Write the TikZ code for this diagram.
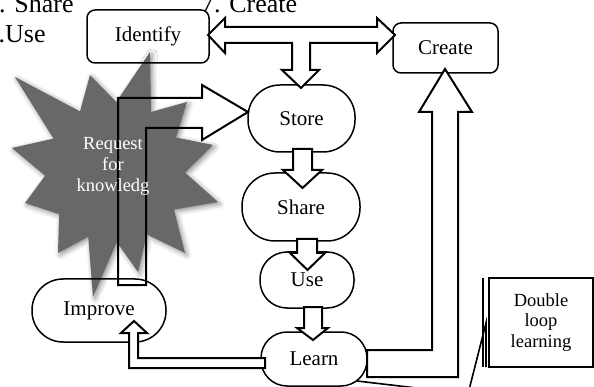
\documentclass[tikz,border=0pt]{standalone}
\usepackage{fontspec}
\setmainfont{Liberation Serif}
\usetikzlibrary{shadows.blur}
\definecolor{burstgray}{RGB}{104,104,104}
\tikzset{
  stage/.style={draw, line width=1.5pt, inner sep=0pt, font=\fontsize{21}{25}\selectfont},
  roundbox/.style 2 args={stage, minimum width=#1pt, minimum height=#2pt, rounded corners=8pt},
  pill/.style n args={3}{stage, minimum width=#1pt, minimum height=#2pt, rounded corners=#3pt},
  heading/.style={inner sep=0pt, font=\fontsize{26}{30}\selectfont},
  blockarrow/.style={draw, line width=2pt, fill=white, line join=miter},
  outlinearrow/.style={draw, line width=2pt, line join=miter},
  calloutline/.style={draw, line width=1.6pt},
  burst/.style={fill=burstgray, blur shadow={shadow xshift=2pt, shadow yshift=-2pt, shadow blur radius=5pt, shadow opacity=45}},
}
\begin{document}
\begin{tikzpicture}[x=1pt,y=-1pt]
\useasboundingbox (0,0) rectangle (594,387);

% headings along the top edge
\node[heading, anchor=base west] (hshare) at (-1,13) {. Share};
\node[heading, anchor=base west] (huse) at (-1.5,43) {.Use};
\node[heading, anchor=base west] (hcreate) at (201,13) {7. Create};

% white backing of the Identify box
\fill[white, rounded corners=8pt] (87,10) rectangle (209,63);

% the burst
\path[burst] (150,52) -- (151,112) -- (187,102) -- (176,137.5) -- (213,145) -- (185,172.6)
  -- (218,202) -- (174,209.6) -- (185,253) -- (146.8,234.4) -- (138,272) -- (116.8,242)
  -- (93,297) -- (88.2,236.7) -- (58,253) -- (59.1,214.1) -- (25,203) -- (45.1,175.7)
  -- (12,148) -- (53.5,138.6) -- (15,77) -- (80,111.4) -- (90,75) -- (116.2,102) -- cycle;

% boxes
\node[roundbox={122}{53}] (identify) at (148,36.5) {Identify};
\node[roundbox={105}{50}, fill=white] (create) at (445.5,48) {Create};
\node[pill={107}{67}{32}, fill=white] (store) at (301.5,118.5) {Store};
\node[pill={118}{68}{33}, fill=white] (share) at (301,207) {Share};
\node[pill={94}{56}{27}, fill=white] (use) at (307,280) {Use};
\node[pill={106}{54}{26}, fill=white] (learn) at (314,359) {Learn};
\node[pill={134}{63}{31}] (improve) at (99,310.5) {Improve};

% Improve up to Store
\path[outlinearrow] (118,285) -- (118,98) -- (202,98) -- (202,85) -- (248,112)
  -- (202,140) -- (202,128) -- (146,128) -- (146,285) -- cycle;

\node[align=center, text=white, inner sep=0pt, font=\fontsize{18.5}{21}\selectfont] (request) at (113,166) {Request\\for\\knowledg};

% Identify <-> Create, branching down to Store
\path[blockarrow] (208,35) -- (225,18) -- (225,27) -- (377,27) -- (377,18) -- (395,35)
  -- (377,53) -- (377,43) -- (310,43) -- (310,70) -- (319,70) -- (301,88) -- (282,70)
  -- (292,70) -- (292,43) -- (225,43) -- (225,53) -- cycle;

% Store -> Share -> Use -> Learn
\path[blockarrow] (293,149) -- (293,170) -- (283,170) -- (302.5,188) -- (322,170) -- (312,170) -- (312,149) -- cycle;
\path[blockarrow] (297,239) -- (297,253) -- (290,253) -- (307.5,270) -- (325,253) -- (317,253) -- (317,239) -- cycle;
\path[blockarrow] (304,307) -- (304,328) -- (297,328) -- (313,340) -- (328,328) -- (322,328) -- (322,307) -- cycle;

% Learn -> Improve
\path[blockarrow] (265,358) -- (138,358) -- (138,333) -- (147,333) -- (134,321) -- (121,333)
  -- (129,333) -- (129,368) -- (265,368) -- cycle;

% Learn -> Create
\path[blockarrow] (367,350) -- (432,350) -- (432,112) -- (419,112) -- (445,69) -- (472,112)
  -- (458,112) -- (458,377) -- (367,377) -- cycle;

% callout
\node[draw, line width=1.6pt, minimum width=104pt, minimum height=89pt, inner sep=0pt,
  align=center, font=\fontsize{18.5}{20.5}\selectfont] (dll) at (541,322.5) {Double\\loop\\learning};
\coordinate (bend) at (468,394);
\path[calloutline] (483,278) -- (483,367);
\path[calloutline] (357,381) -- (bend) -- (486,323) -- (486,367);
\end{tikzpicture}
\end{document}
